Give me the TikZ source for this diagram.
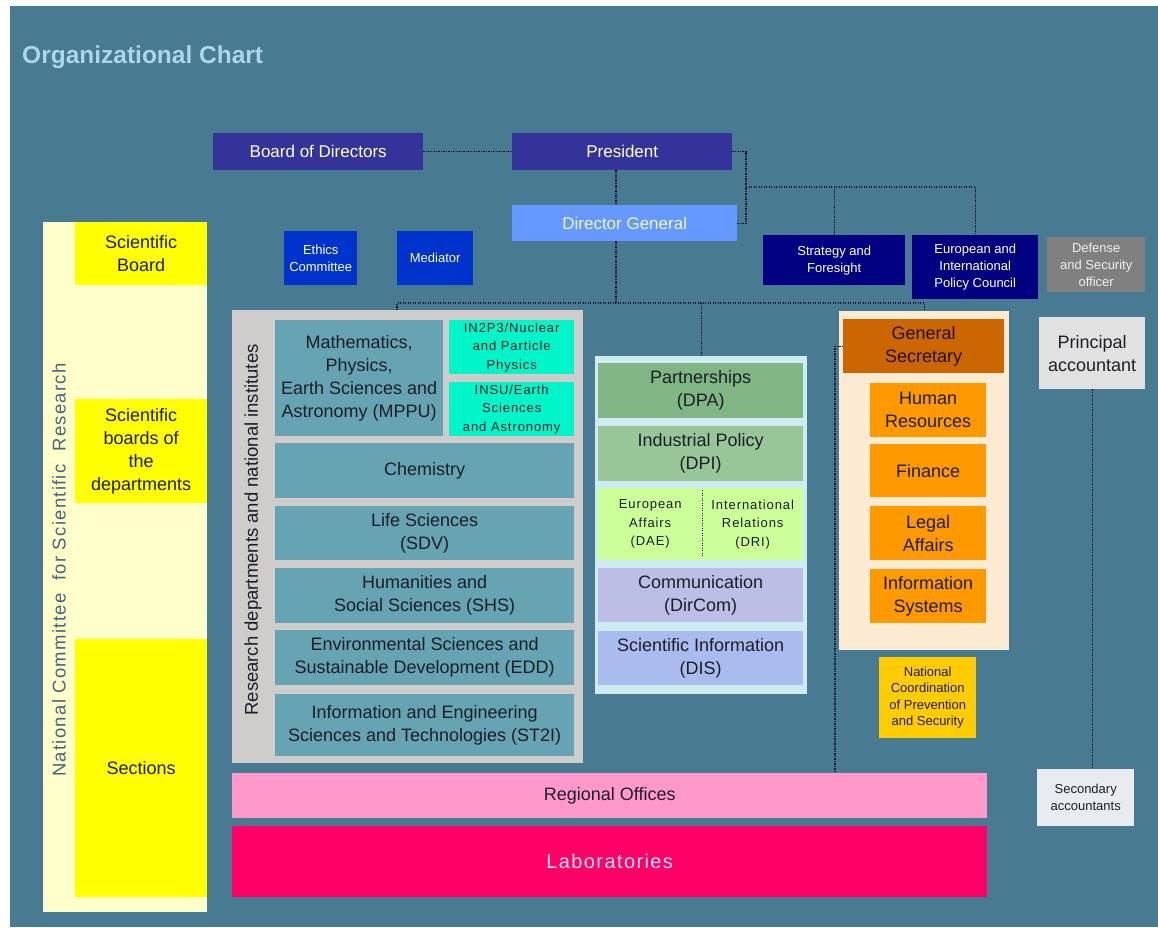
\documentclass[tikz,border=0pt]{standalone}
\usepackage{fontspec}
\setmainfont{Liberation Sans}
\newfontfamily\widefont[LetterSpace=7]{Liberation Sans}
\usepackage{tikz}
\usetikzlibrary{positioning}
\definecolor{bgteal}{RGB}{72,122,146}
\definecolor{titleblue}{RGB}{172,214,234}
\definecolor{inkdark}{RGB}{28,30,40}
\definecolor{linkdark}{RGB}{14,20,44}
\definecolor{bosspurple}{RGB}{51,51,153}
\definecolor{dgblue}{RGB}{102,153,255}
\definecolor{navy}{RGB}{0,0,128}
\definecolor{royal}{RGB}{0,51,204}
\definecolor{defgray}{RGB}{128,128,128}
\definecolor{cream}{RGB}{255,255,204}
\definecolor{brightyellow}{RGB}{255,255,0}
\definecolor{nctext}{RGB}{70,100,122}
\definecolor{resgray}{RGB}{206,205,203}
\definecolor{deptteal}{RGB}{102,163,179}
\definecolor{aqua}{RGB}{0,245,200}
\definecolor{midcyan}{RGB}{204,236,240}
\definecolor{greendpa}{RGB}{128,181,132}
\definecolor{greendpi}{RGB}{153,198,153}
\definecolor{limedae}{RGB}{204,255,153}
\definecolor{lavcom}{RGB}{188,190,230}
\definecolor{lavdis}{RGB}{170,187,238}
\definecolor{peach}{RGB}{253,234,210}
\definecolor{burnt}{RGB}{204,102,0}
\definecolor{orange}{RGB}{255,153,0}
\definecolor{gold}{RGB}{255,204,0}
\definecolor{lightgray}{RGB}{225,225,225}
\definecolor{palegray}{RGB}{233,236,238}
\definecolor{pink}{RGB}{255,153,204}
\definecolor{crimson}{RGB}{255,0,102}
\tikzset{
  orgbox/.style = {anchor=north west, inner sep=0pt, align=center,
    font=\fontsize{18}{23}\selectfont, text=inkdark},
  org_small/.style = {orgbox, font=\fontsize{13}{17}\selectfont},% small print
  org_wide/.style = {orgbox, font=\widefont\fontsize{13}{18.5}\selectfont},% spaced print
  org_boss/.style = {orgbox, fill=bosspurple, text=white,
    font=\fontsize{17}{21}\selectfont},
  org_navy/.style = {org_small, fill=navy, text=white},
  org_royal/.style = {org_small, fill=royal, text=white},
  org_dept/.style = {orgbox, fill=deptteal},
  org_orange/.style = {orgbox, fill=orange},
  wh/.style 2 args = {minimum width=#1, minimum height=#2},
  orglink/.style = {dash pattern=on 1.4pt off 1.1pt, line width=1.3pt, draw=linkdark}
}
\begin{document}
\begin{tikzpicture}[x=1pt,y=-1pt]
\useasboundingbox (0,0) rectangle (1158,927);
\fill[white] (0,0) rectangle (1158,927);
\fill[bgteal] (10,6) rectangle (1158,927);
\node[anchor=west, inner sep=0pt, text=titleblue,
  font=\bfseries\fontsize{24.5}{28}\selectfont] (title) at (22,57) {Organizational Chart};
% top management
\node[org_boss, wh={210}{37}] (board) at (213,133) {Board of Directors};
\node[org_boss, wh={220}{37}] (president) at (512,133) {President};
\node[org_boss, fill=dgblue, text=white!92!dgblue, wh={225}{36}] (dg) at (512,205) {Director General};
\node[org_navy, wh={142}{50}] (strategy) at (763,235) {Strategy and\\Foresight};
\node[org_navy, wh={126}{64}] (eipc) at (912,235) {European and\\International\\Policy Council};
\node[org_small, fill=defgray, text=white!88!defgray, wh={98}{55}] (defense) at (1047,237) {Defense\\and Security\\officer};
\node[org_royal, wh={73}{54}] (ethics) at (284,231) {Ethics\\Committee};
\node[org_royal, wh={76}{54}] (mediator) at (397,231) {Mediator};
% national committee
\node[orgbox, fill=cream, wh={164}{690}] (nccol) at (43,222) {};
\node[orgbox, fill=brightyellow, wh={132}{63}] (sciboard) at (75,222) {Scientific\\Board};
\node[orgbox, fill=brightyellow, wh={132}{104}] (scideps) at (75,399) {Scientific\\boards of\\the\\departments};
\node[orgbox, fill=brightyellow, wh={132}{258}] (sections) at (75,639) {Sections};
\node[rotate=90, inner sep=0pt, text=nctext, font=\widefont\fontsize{18.5}{22}\selectfont]
  (nclabel) at (59,570) {National Committee\ \ for Scientific\ \ Research};
% research departments
\node[orgbox, fill=resgray, wh={351}{453}] (research) at (232,310) {};
\node[rotate=90, inner sep=0pt, text=inkdark, font=\fontsize{18.5}{22}\selectfont]
  (reslabel) at (253,530) {Research departments and national institutes};
\node[org_dept, wh={168}{116}] (mppu) at (275,320) {Mathematics,\\Physics,\\Earth Sciences and\\Astronomy (MPPU)};
\node[org_wide, fill=aqua, wh={125}{54}] (in2p3) at (449,320) {IN2P3/Nuclear\\and Particle\\Physics};
\node[org_wide, fill=aqua, wh={125}{54}] (insu) at (449,382) {INSU/Earth\\Sciences\\and Astronomy};
\node[org_dept, wh={299}{55}] (chem) at (275,443) {Chemistry};
\node[org_dept, wh={299}{54}] (sdv) at (275,506) {Life Sciences\\(SDV)};
\node[org_dept, wh={299}{55}] (shs) at (275,568) {Humanities and\\Social Sciences (SHS)};
\node[org_dept, wh={299}{55}] (edd) at (275,630) {Environmental Sciences and\\Sustainable Development (EDD)};
\node[org_dept, wh={299}{62}] (st2i) at (275,694) {Information and Engineering\\Sciences and Technologies (ST2I)};
\node[orgbox, fill=pink, wh={755}{45}] (regional) at (232,773) {Regional Offices};
\node[orgbox, fill=crimson, text=white!90!crimson, font=\widefont\fontsize{20}{24}\selectfont,
  wh={755}{71}] (labs) at (232,826) {Laboratories};
% support directorates
\node[orgbox, fill=midcyan, wh={212}{338}] (midcol) at (595,356) {};
\node[orgbox, fill=greendpa, wh={205}{55}] (dpa) at (598,363) {Partnerships\\(DPA)};
\node[orgbox, fill=greendpi, wh={205}{55}] (dpi) at (598,426) {Industrial Policy\\(DPI)};
\node[org_wide, fill=limedae, wh={104}{72}] (dae) at (598,488) {European\\Affairs\\(DAE)};
\node[org_wide, fill=limedae, wh={101}{72}] (dri) at (702,488) {International\\Relations\\(DRI)};
\node[orgbox, fill=lavcom, wh={205}{54}] (dircom) at (598,568) {Communication\\(DirCom)};
\node[orgbox, fill=lavdis, wh={205}{54}] (dis) at (598,631) {Scientific Information\\(DIS)};
% general secretary
\node[orgbox, fill=peach, wh={170}{339}] (gsbox) at (839,311) {};
\node[orgbox, fill=burnt, text=black!85!burnt, wh={161}{54}] (gensec) at (843,319) {General\\Secretary};
\node[org_orange, wh={116}{54}] (hr) at (870,383) {Human\\Resources};
\node[org_orange, wh={116}{53}] (finance) at (870,444) {Finance};
\node[org_orange, wh={116}{54}] (legal) at (870,506) {Legal\\Affairs};
\node[org_orange, wh={116}{54}] (infosys) at (870,569) {Information\\Systems};
\node[org_small, fill=gold, font=\fontsize{13}{16.5}\selectfont, wh={97}{81}] (ncps) at (879,657)
  {National\\Coordination\\of Prevention\\and Security};
\node[orgbox, fill=lightgray, wh={106}{72}] (principal) at (1039,317) {Principal\\accountant};
\node[org_small, fill=palegray, wh={97}{57}] (secondary) at (1037,769) {Secondary\\accountants};
% links
\coordinate (trunk) at (616,303);
\coordinate (westdrop) at (397,303);
\coordinate (advisor) at (746,187);
\coordinate (regdrop) at (835,773);
\draw[orglink] (board) -- (president);
\draw[orglink] (trunk |- president.south) -- (trunk |- dg.north);
\draw[orglink] (trunk |- dg.south) -- (trunk);
\draw[orglink] (president.east) -| (advisor) |- (dg.east);
\draw[orglink] (advisor) -| (eipc.north);
\draw[orglink] (strategy.north) -- (strategy.north |- advisor);
\draw[orglink] (westdrop |- research.north) -- (westdrop) -| (gsbox.north);
\draw[orglink] (midcol.north) -- (midcol.north |- trunk);
\draw[orglink] (gensec.west) -| (regdrop);
\draw[orglink] (principal.south) -- (principal.south |- secondary.north);
\draw[orglink] ([yshift=-2pt]dae.north east) -- ([yshift=3pt]dae.south east);
\end{tikzpicture}
\end{document}
